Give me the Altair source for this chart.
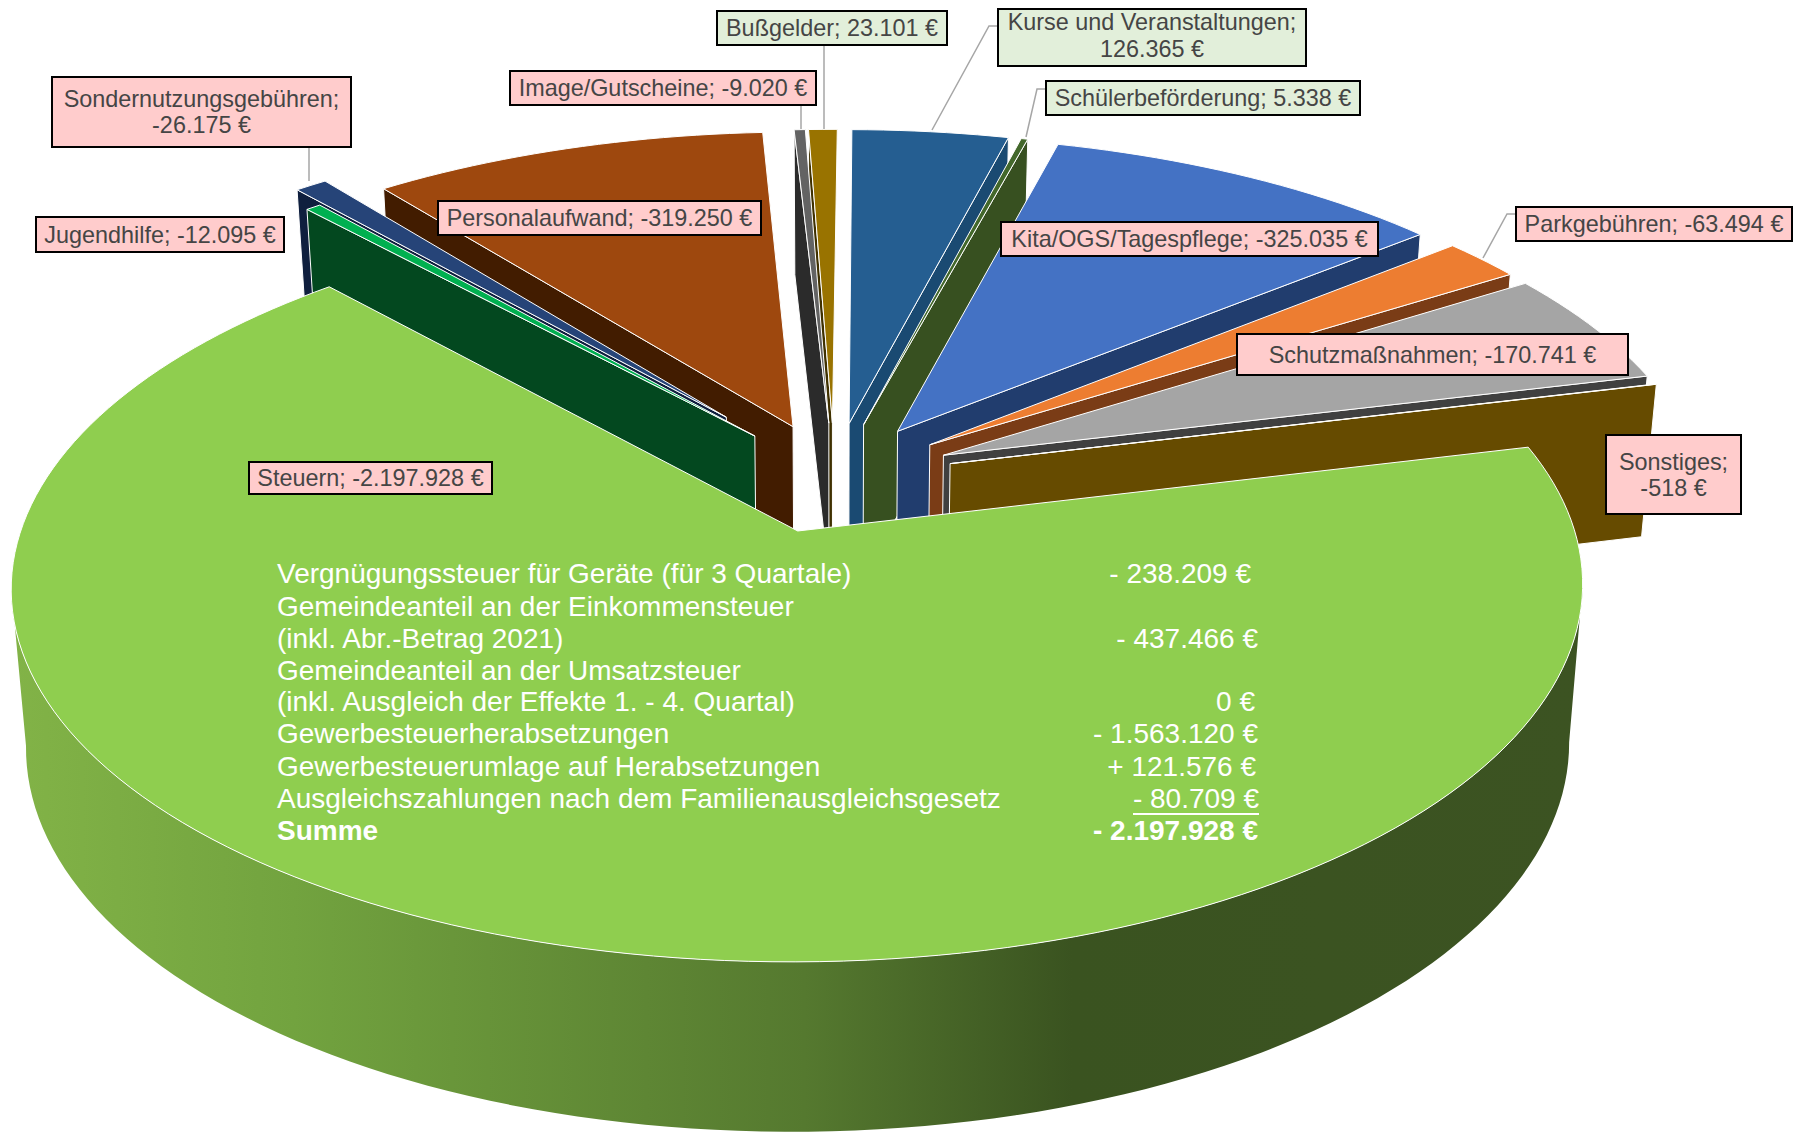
import numpy as np
import pandas as pd
import altair as alt

# ---- data (clockwise from 12 o'clock) ----
names = ["Kurse und Veranstaltungen", "Schülerbeförderung", "Kita/OGS/Tagespflege", "Parkgebühren",
         "Schutzmaßnahmen", "Sonstiges", "Steuern", "Jugendhilfe", "Sondernutzungsgebühren",
         "Personalaufwand", "Image/Gutscheine", "Bußgelder"]
values = [126365, 5338, -325035, -63494, -170741, -518, -2197928, -12095, -26175, -319250, -9020, 23101]
top_colors = ["#255E91", "#43682B", "#4472C4", "#ED7D31", "#A5A5A5", "#FFC000", "#8FCE4F", "#00B050",
              "#264478", "#9E480E", "#636363", "#997300"]
wall_colors = ["#1A4A72", "#375020", "#213D6E", "#7A3C16", "#404040", "#664B00", "#3C5322", "#03481F",
               "#0F1F3E", "#421C00", "#2B2B2B", "#3F3000"]
explosions = [0.157, 0.157, 0.157, 0.157, 0.157, 0.157, 0.157, 0.16, 0.228, 0.157, 0.157, 0.157]
paint_order = [11, 10, 9, 8, 7, 0, 1, 2, 3, 4, 5]  # back to front, Steuern (6) last

label_rows = [
    ("Bußgelder; 23.101 €", 717, 11, 947, 45, "#E2EFDA", 29.2),
    ("Kurse und Veranstaltungen;\n126.365 €", 998, 9, 1306, 66, "#E2EFDA", 36.7),
    ("Schülerbeförderung; 5.338 €", 1046, 81, 1360, 115, "#E2EFDA", 99.2),
    ("Image/Gutscheine; -9.020 €", 510, 71, 816, 105, "#FFCCCC", 89.2),
    ("Sondernutzungsgebühren;\n-26.175 €", 52, 77, 351, 147, "#FFCCCC", 113.2),
    ("Jugendhilfe; -12.095 €", 36, 217, 284, 252, "#FFCCCC", 235.7),
    ("Personalaufwand; -319.250 €", 438, 201, 761, 235, "#FFCCCC", 219.2),
    ("Kita/OGS/Tagespflege; -325.035 €", 1001, 222, 1378, 256, "#FFCCCC", 240.2),
    ("Parkgebühren; -63.494 €", 1516, 207, 1792, 241, "#FFCCCC", 225.2),
    ("Schutzmaßnahmen; -170.741 €", 1237, 334, 1628, 375, "#FFCCCC", 355.7),
    ("Sonstiges;\n-518 €", 1606, 435, 1741, 514, "#FFCCCC", 476),
    ("Steuern; -2.197.928 €", 249, 462, 492, 494, "#FFCCCC", 479.2),
]
leaders = [
    [(824, 45), (824, 129)],
    [(801, 105), (801, 129)],
    [(309, 147), (309, 181)],
    [(998, 26), (989, 26), (932, 130)],
    [(1046, 89), (1037, 89), (1026, 137)],
    [(1516, 214), (1507, 214), (1483, 258)],
]
note_left = ["Vergnügungssteuer für Geräte (für 3 Quartale)", "Gemeindeanteil an der Einkommensteuer",
             "(inkl. Abr.-Betrag 2021)", "Gemeindeanteil an der Umsatzsteuer",
             "(inkl. Ausgleich der Effekte 1. - 4. Quartal)", "Gewerbesteuerherabsetzungen",
             "Gewerbesteuerumlage auf Herabsetzungen",
             "Ausgleichszahlungen nach dem Familienausgleichsgesetz", "Summe"]
note_right = ["- 238.209 €", "", "- 437.466 €", "", "0 €", "- 1.563.120 €", "+ 121.576 €", "- 80.709 €",
              "- 2.197.928 €"]
note_y = [575, 608, 640, 672, 703, 735, 768, 800, 832]
note_right_x = [1251, 0, 1258, 0, 1255, 1258, 1256, 1259, 1258]

# ---- perspective view of the exploded pie ----
X0, Y0, A, B, K = 835.0, 477.0, 760.0, 351.0, 0.1453
SX, SY, DY = 0.982, 1.03, 141.0
ROT = np.radians(0.4)
STEUERN_DX = -2.5


def project(u, v, bottom=False, dx=0.0):
    w = 1 - K * v
    x = X0 + dx + A * u / w
    y = Y0 + B * v / w
    if bottom:
        x = X0 + dx + SX * (x - X0 - dx)
        y = SY * y + DY
    return x, y


shares = np.abs(values) / np.abs(values).sum() * 2 * np.pi
ends = np.cumsum(shares)
starts = ends - shares


def apex(i):
    m = (starts[i] + ends[i]) / 2
    return explosions[i] * np.sin(m), -explosions[i] * np.cos(m)


def rim(i, t, bottom=False, dx=0.0):
    a = apex(i)
    return project(a[0] + np.sin(t + ROT), a[1] - np.cos(t + ROT), bottom, dx)


def arc(i, bottom=False, t0=None, t1=None, dx=0.0):
    t0 = starts[i] if t0 is None else t0
    t1 = ends[i] if t1 is None else t1
    n = max(2, int(abs(t1 - t0) / np.radians(1.5)) + 2)
    return [rim(i, t, bottom, dx) for t in np.linspace(t0, t1, n)]


rows = []


def add_poly(pid, pts, color):
    pts = list(pts) + [pts[0]]
    for k, (x, y) in enumerate(pts):
        rows.append({"pid": pid, "k": k, "x": float(x), "y": float(y), "col": color})


for i in paint_order:
    mid = (starts[i] + ends[i]) / 2
    t = ends[i] if mid < np.pi else starts[i]
    a = apex(i)
    add_poly(f"w{i:02d}", [rim(i, t), project(*a), project(*a, True), rim(i, t, True)], wall_colors[i])
    add_poly(f"t{i:02d}", [project(*a)] + arc(i), top_colors[i])
polys = pd.DataFrame(rows)

# Steuern
S = 6
ts = np.linspace(starts[S], ends[S], 400)
xs = np.array([rim(S, t, False, STEUERN_DX)[0] for t in ts])
tr, tl = ts[np.argmax(xs)], ts[np.argmin(xs)]
wall_pts = arc(S, False, tr, tl, STEUERN_DX) + arc(S, True, tl, tr, STEUERN_DX)
wall_pts = wall_pts + [wall_pts[0]]
wall_df = pd.DataFrame({"k": range(len(wall_pts)), "x": [p[0] for p in wall_pts], "y": [p[1] for p in wall_pts]})
st_pts = [project(*apex(S), False, STEUERN_DX)] + arc(S, False, None, None, STEUERN_DX)
st_pts = st_pts + [st_pts[0]]
st_df = pd.DataFrame({"k": range(len(st_pts)), "x": [p[0] for p in st_pts], "y": [p[1] for p in st_pts]})

# ---- scales: picture coordinates ----
W, H = 1789, 1124
xs_ = alt.Scale(domain=[8, 8 + W], nice=False, zero=False)
ys_ = alt.Scale(domain=[8 + H, 8], nice=False, zero=False)
X = alt.X("x:Q", scale=xs_, axis=None)
Y = alt.Y("y:Q", scale=ys_, axis=None)

slices = alt.Chart(polys).mark_line(stroke="#FFFFFF", strokeWidth=1, strokeJoin="round", interpolate="linear").encode(
    x=X, y=Y, order="k:Q", detail="pid:N", fill=alt.Fill("col:N", scale=None))

gradient = alt.Gradient(gradient="linear", x1=0, x2=1, y1=0, y2=0, stops=[
    alt.GradientStop(offset=0, color="#82B347"),
    alt.GradientStop(offset=0.18, color="#72A33F"),
    alt.GradientStop(offset=0.505, color="#55792F"),
    alt.GradientStop(offset=0.675, color="#3A5320"),
    alt.GradientStop(offset=1, color="#3C5322"),
])
st_wall = alt.Chart(wall_df).mark_line(fill=gradient, stroke=None, strokeWidth=0).encode(x=X, y=Y, order="k:Q")
st_top = alt.Chart(st_df).mark_line(fill="#8FCE4F", stroke="#FFFFFF", strokeWidth=1).encode(x=X, y=Y, order="k:Q")

lead_rows = [{"lid": j, "k": k, "x": p[0], "y": p[1]} for j, l in enumerate(leaders) for k, p in enumerate(l)]
lead = alt.Chart(pd.DataFrame(lead_rows)).mark_line(stroke="#A6A6A6", strokeWidth=1.5).encode(
    x=X, y=Y, order="k:Q", detail="lid:N")

box_df = pd.DataFrame([{"x": r[1], "y": r[2], "x2": r[3], "y2": r[4], "col": r[5]} for r in label_rows])
boxes = alt.Chart(box_df).mark_rect(stroke="#000000", strokeWidth=2).encode(
    x=X, y=Y, x2="x2:Q", y2="y2:Q", fill=alt.Fill("col:N", scale=None))

txt_rows = []
for r in label_rows:
    lines = r[0].split("\n")
    lh = 26.5
    for j, line in enumerate(lines):
        txt_rows.append({"x": (r[1] + r[3]) / 2, "y": r[6] + (j - (len(lines) - 1) / 2) * lh, "t": line})
texts = alt.Chart(pd.DataFrame(txt_rows)).mark_text(
    font="Liberation Sans", fontSize=23.4, color="#454545", align="center", baseline="middle").encode(x=X, y=Y, text="t:N")

nl = pd.DataFrame({"x": 277, "y": note_y, "t": note_left, "b": ["normal"] * 8 + ["bold"]})
nr = pd.DataFrame({"x": note_right_x, "y": note_y, "t": note_right, "b": ["normal"] * 8 + ["bold"]})
nr = nr[nr["t"] != ""]
note_l = alt.Chart(nl[nl.b == "normal"]).mark_text(font="Liberation Sans", fontSize=28, color="#FFFFFF", align="left", baseline="middle").encode(x=X, y=Y, text="t:N")
note_lb = alt.Chart(nl[nl.b == "bold"]).mark_text(font="Liberation Sans", fontSize=28, fontWeight="bold", color="#FFFFFF", align="left", baseline="middle").encode(x=X, y=Y, text="t:N")
note_r = alt.Chart(nr[nr.b == "normal"]).mark_text(font="Liberation Sans", fontSize=28, color="#FFFFFF", align="right", baseline="middle").encode(x=X, y=Y, text="t:N")
note_rb = alt.Chart(nr[nr.b == "bold"]).mark_text(font="Liberation Sans", fontSize=28, fontWeight="bold", color="#FFFFFF", align="right", baseline="middle").encode(x=X, y=Y, text="t:N")
under = alt.Chart(pd.DataFrame({"x": [1133], "x2": [1259], "y": [814]})).mark_rule(color="#FFFFFF", strokeWidth=2).encode(x=X, x2="x2:Q", y=Y)

chart = alt.layer(slices, st_wall, st_top, lead, boxes, texts, note_l, note_lb, note_r, note_rb, under).properties(
    width=W, height=H, padding=0, autosize=alt.AutoSizeParams(type="none"), background="#FFFFFF"
).configure_view(stroke=None)

chart.save("out.html", embed_options={"renderer": "svg", "actions": False})
